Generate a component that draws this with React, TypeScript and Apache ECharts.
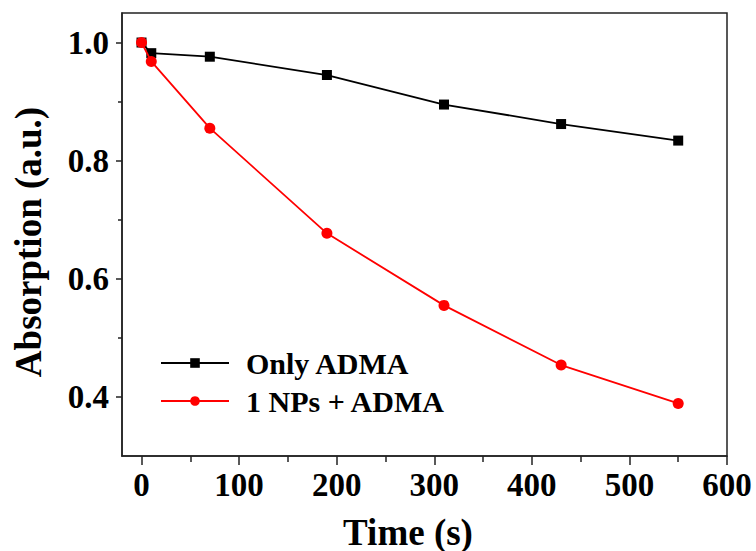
import React, { useEffect, useRef } from "react";
import * as echarts from "echarts";

// Absorption decay over time, with and without nanoparticles
const timeS = [0, 10, 70, 190, 310, 430, 550];
const onlyAdma = [1.0, 0.982, 0.976, 0.945, 0.895, 0.862, 0.834];
const npsAdma = [1.0, 0.968, 0.855, 0.677, 0.555, 0.454, 0.389];

const xMajor = [0, 100, 200, 300, 400, 500, 600];
const xMinor = [50, 150, 250, 350, 450, 550];
const yMajor = [0.4, 0.6, 0.8, 1.0];
const yMinor = [0.5, 0.7, 0.9];

const seriesNames = ["Only ADMA", "1 NPs + ADMA"];

const FONT = '"Liberation Serif", "Times New Roman", serif';
const AXIS_COLOR = "#222";

export default function App() {
  const ref = useRef<HTMLDivElement>(null);

  useEffect(() => {
    if (!ref.current) return;
    const chart = echarts.init(ref.current, null, { renderer: "svg" });

    const grid = { left: 122, right: 29, top: 13, bottom: 95 };
    const xRange = { min: -20, max: 600 };
    const yRange = { min: 0.3, max: 1.05 };

    chart.setOption({
      animation: false,
      backgroundColor: "#fff",
      grid: {
        ...grid,
        show: true,
        borderColor: AXIS_COLOR,
        borderWidth: 1.5,
        backgroundColor: "transparent",
      },
      xAxis: [
        {
          type: "value",
          ...xRange,
          interval: 20,
          axisLine: { show: true, onZero: false, lineStyle: { color: AXIS_COLOR, width: 1.5 } },
          axisTick: {
            show: true,
            inside: false,
            length: 9,
            customValues: xMajor,
            lineStyle: { color: AXIS_COLOR, width: 1.5 },
          },
          axisLabel: {
            customValues: xMajor,
            margin: 12,
            fontFamily: FONT,
            fontWeight: "bold",
            fontSize: 33,
            color: "#000",
          },
          splitLine: { show: false },
        },
        {
          type: "value",
          ...xRange,
          interval: 10,
          position: "bottom",
          axisLine: { show: false, onZero: false },
          axisTick: {
            show: true,
            inside: false,
            length: 6,
            customValues: xMinor,
            lineStyle: { color: AXIS_COLOR, width: 1.5 },
          },
          axisLabel: { show: false },
          splitLine: { show: false },
        },
      ],
      yAxis: [
        {
          type: "value",
          ...yRange,
          interval: 0.1,
          axisLine: { show: true, onZero: false, lineStyle: { color: AXIS_COLOR, width: 1.5 } },
          axisTick: {
            show: true,
            inside: false,
            length: 6,
            customValues: yMajor,
            lineStyle: { color: AXIS_COLOR, width: 1.5 },
          },
          axisLabel: {
            customValues: yMajor,
            margin: 13,
            formatter: (v: number) => v.toFixed(1),
            fontFamily: FONT,
            fontWeight: "bold",
            fontSize: 33,
            color: "#000",
          },
          splitLine: { show: false },
        },
        {
          type: "value",
          ...yRange,
          interval: 0.1,
          position: "left",
          axisLine: { show: false, onZero: false },
          axisTick: {
            show: true,
            inside: false,
            length: 4,
            customValues: yMinor,
            lineStyle: { color: AXIS_COLOR, width: 1.5 },
          },
          axisLabel: { show: false },
          splitLine: { show: false },
        },
      ],
      legend: {
        orient: "vertical",
        left: 160,
        top: 348,
        padding: 0,
        itemWidth: 68,
        itemHeight: 12,
        itemGap: 8,
        textStyle: {
          fontFamily: FONT,
          fontWeight: "bold",
          fontSize: 30,
          color: "#000",
          padding: [0, 0, 0, 12],
        },
        data: seriesNames,
      },
      graphic: [
        {
          type: "text",
          x: 408,
          y: 532,
          style: {
            text: "Time (s)",
            fontFamily: FONT,
            fontWeight: "bold",
            fontSize: 37,
            fill: "#000",
            align: "center",
            verticalAlign: "middle",
          },
        },
        {
          type: "text",
          x: 28,
          y: 242,
          rotation: Math.PI / 2,
          style: {
            text: "Absorption (a.u.)",
            fontFamily: FONT,
            fontWeight: "bold",
            fontSize: 37,
            fill: "#000",
            align: "center",
            verticalAlign: "middle",
          },
        },
      ],
      series: [
        {
          name: seriesNames[0],
          type: "line",
          data: timeS.map((t, i) => [t, onlyAdma[i]]),
          symbol: "rect",
          symbolSize: 10,
          itemStyle: { color: "#000" },
          lineStyle: { color: "#000", width: 1.8 },
          z: 2,
        },
        {
          name: seriesNames[1],
          type: "line",
          data: timeS.map((t, i) => [t, npsAdma[i]]),
          symbol: "circle",
          symbolSize: 11,
          itemStyle: { color: "#ff0000" },
          lineStyle: { color: "#ff0000", width: 1.8 },
          z: 3,
        },
      ],
    });

    return () => chart.dispose();
  }, []);

  return (
    <div
      ref={ref}
      style={{ position: "fixed", left: 0, top: 0, width: 756, height: 551, background: "#fff" }}
    />
  );
}
